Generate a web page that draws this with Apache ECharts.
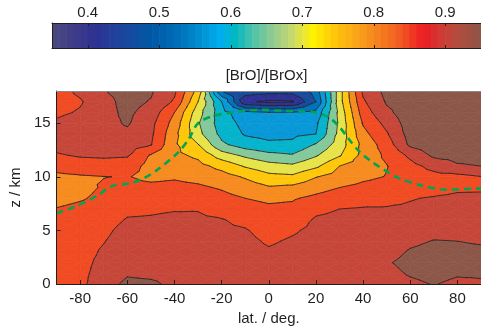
<!DOCTYPE html>
<html>
<head>
<meta charset="utf-8">
<script src="https://cdn.jsdelivr.net/npm/echarts@6/dist/echarts.min.js"></script>
<style>
html,body{margin:0;padding:0;background:#fff;}
#chart{width:481px;height:331px;}
</style>
</head>
<body>
<div id="chart"></div>
<script>
// ---- data ----
const latitudes = [-90,-80,-70,-60,-50,-40,-30,-20,-10,0,10,20,30,40,50,60,70,80,90];
const altitudes = [0,1,2,3,4,5,6,7,8,9,10,11,12,13,14,15,16,17,18];
// [BrO]/[BrOx] ratio, one row per altitude (km), columns follow latitudes
const ratioZ00 = [.875,.888,.930,.960,.958,.940,.935,.930,.935,.930,.935,.935,.930,.930,.925,.940,.952,.940,.945];
const ratioZ01 = [.875,.886,.922,.945,.940,.935,.930,.925,.930,.925,.930,.930,.930,.930,.935,.955,.965,.955,.955];
const ratioZ02 = [.875,.884,.914,.935,.932,.930,.925,.920,.925,.915,.920,.925,.928,.928,.945,.965,.970,.965,.962];
const ratioZ03 = [.873,.882,.906,.928,.928,.926,.920,.915,.915,.905,.913,.920,.925,.925,.930,.955,.965,.962,.960];
const ratioZ04 = [.870,.880,.898,.922,.924,.922,.915,.910,.910,.895,.905,.915,.920,.920,.920,.940,.952,.950,.945];
const ratioZ05 = [.868,.877,.890,.915,.917,.917,.910,.905,.903,.885,.895,.910,.915,.915,.912,.925,.935,.935,.930];
const ratioZ06 = [.862,.872,.882,.903,.905,.910,.906,.902,.890,.872,.878,.905,.910,.910,.907,.915,.920,.925,.920];
const ratioZ07 = [.852,.862,.872,.890,.893,.897,.898,.885,.870,.860,.862,.890,.900,.903,.903,.905,.910,.915,.912];
const ratioZ08 = [.835,.845,.862,.875,.877,.880,.880,.865,.850,.840,.845,.862,.880,.885,.890,.898,.903,.908,.910];
const ratioZ09 = [.828,.835,.855,.862,.860,.862,.858,.845,.825,.805,.812,.830,.850,.862,.870,.880,.885,.893,.893];
const ratioZ10 = [.840,.845,.849,.852,.840,.845,.835,.820,.795,.765,.760,.798,.820,.840,.852,.875,.885,.885,.898];
const ratioZ11 = [.865,.875,.878,.875,.832,.830,.815,.785,.745,.720,.710,.740,.800,.825,.848,.885,.915,.945,.950];
const ratioZ12 = [.895,.905,.908,.905,.845,.812,.790,.725,.690,.665,.655,.695,.745,.815,.860,.910,.960,.965,.965];
const ratioZ13 = [.915,.925,.925,.920,.903,.808,.752,.660,.625,.610,.610,.655,.725,.815,.875,.960,.975,.975,.975];
const ratioZ14 = [.920,.930,.930,.940,.910,.815,.715,.635,.595,.585,.590,.600,.715,.835,.895,.970,.975,.975,.975];
const ratioZ15 = [.908,.925,.935,.955,.915,.830,.705,.625,.585,.570,.575,.590,.710,.855,.915,.975,.975,.975,.975];
const ratioZ16 = [.890,.905,.935,.960,.930,.850,.720,.620,.565,.552,.553,.565,.715,.875,.940,.975,.975,.975,.975];
const ratioZ17 = [.880,.895,.935,.965,.947,.893,.750,.600,.410,.390,.395,.500,.730,.893,.955,.975,.975,.975,.975];
const ratioZ18 = [.880,.910,.948,.965,.956,.910,.780,.500,.480,.470,.470,.520,.730,.910,.965,.975,.975,.975,.975];
const ratioRows = [ratioZ00,ratioZ01,ratioZ02,ratioZ03,ratioZ04,ratioZ05,ratioZ06,ratioZ07,ratioZ08,ratioZ09,
                   ratioZ10,ratioZ11,ratioZ12,ratioZ13,ratioZ14,ratioZ15,ratioZ16,ratioZ17,ratioZ18];

// tropopause (green dashed line)
const tropLat = [-90,-82,-73,-67,-59,-53.5,-46.7,-38.3,-34,-30,-23,-12,-4,6,20,25.7,29.8,34,38.2,43.7,49.3,55,64.6,75.8,88.3,90];
const tropAlt = [6.6,7.25,8.2,9.1,9.4,9.8,10.75,12.3,13.5,15.0,15.7,16.1,16.25,16.15,16.0,15.5,14.7,13.5,12.4,11.4,10.6,9.9,9.2,8.8,8.9,8.9];

// contour levels and colour-bar ticks
const contourLevels = [0.35,0.40,0.45,0.50,0.55,0.60,0.65,0.70,0.75,0.80,0.85,0.90,0.95];
const colorbarTicks = [0.4,0.5,0.6,0.7,0.8,0.9];
const latTicks = [-80,-60,-40,-20,0,20,40,60,80];
const altTicks = [0,5,10,15];

// ---- styles ----
const bandColors = ['#403c88','#403c88','#2e3192','#164c9c','#0072bc','#0898d8','#06b3cc','#84c99b',
                    '#e6e44a','#ffc70c','#f68b1f','#f04b23','#c6473a','#8c5749'];
const cmapStops = [[0.35,'#4b4a7c'],[0.38,'#3f3c88'],[0.41,'#2e3192'],[0.45,'#1b479d'],[0.49,'#0058a5'],
  [0.53,'#0071bb'],[0.56,'#0092d4'],[0.585,'#00aeef'],[0.605,'#00b7c4'],[0.63,'#4cc2ab'],[0.66,'#94cb8f'],
  [0.685,'#c6d970'],[0.705,'#f0e92a'],[0.715,'#fff200'],[0.745,'#ffc60b'],[0.79,'#f7941d'],[0.83,'#f26522'],
  [0.87,'#ed1c24'],[0.895,'#cf3a35'],[0.915,'#b54b3d'],[0.95,'#8c5648']];
const TXT = '#231f20';
const FONT = '"Liberation Sans", Arial, Helvetica, sans-serif';

function hex2rgb(h){return [parseInt(h.substr(1,2),16),parseInt(h.substr(3,2),16),parseInt(h.substr(5,2),16)];}
function cmap(v){
  if (v<=cmapStops[0][0]) return cmapStops[0][1];
  for (let k=1;k<cmapStops.length;k++){
    if (v<=cmapStops[k][0]){
      const a=cmapStops[k-1], b=cmapStops[k], f=(v-a[0])/(b[0]-a[0]);
      const ca=hex2rgb(a[1]), cb=hex2rgb(b[1]);
      return 'rgb('+ca.map((x,i)=>Math.round(x+f*(cb[i]-x))).join(',')+')';
    }
  }
  return cmapStops[cmapStops.length-1][1];
}

const nx = latitudes.length, ny = altitudes.length;
const fieldTable = [];
for (let j=0;j<ny;j++) for (let i=0;i<nx;i++) fieldTable.push([latitudes[i], altitudes[j], ratioRows[j][i]]);

function interp(p,q,t){const f=(t-p.v)/(q.v-p.v);return {x:p.x+f*(q.x-p.x),y:p.y+f*(q.y-p.y),v:t};}
function clip(poly,t,above){
  const out=[];
  for (let k=0;k<poly.length;k++){
    const cur=poly[k], prev=poly[(k+poly.length-1)%poly.length];
    const ci = above ? cur.v>=t : cur.v<t;
    const pi = above ? prev.v>=t : prev.v<t;
    if (ci){ if(!pi) out.push(interp(prev,cur,t)); out.push(cur);} else if (pi) out.push(interp(prev,cur,t));
  }
  return out;
}
function cellTriangles(api){
  const i = latitudes.indexOf(api.value(0)), j = altitudes.indexOf(api.value(1));
  if (i<0||j<0||i>=nx-1||j>=ny-1) return null;
  const P=(ii,jj)=>{const c=api.coord([latitudes[ii],altitudes[jj]]);return {x:c[0],y:c[1],v:ratioRows[jj][ii]};};
  const a=P(i,j), b=P(i+1,j), c=P(i+1,j+1), d=P(i,j+1);
  const m={x:(a.x+b.x+c.x+d.x)/4,y:(a.y+b.y+c.y+d.y)/4,v:(a.v+b.v+c.v+d.v)/4};
  return [[a,b,m],[b,c,m],[c,d,m],[d,a,m]];
}
function renderFill(params, api){
  const tris = cellTriangles(api); if(!tris) return null;
  const children=[];
  for (const tri of tris){
    for (let k=0;k<=contourLevels.length;k++){
      const lo = k===0 ? -Infinity : contourLevels[k-1];
      const hi = k===contourLevels.length ? Infinity : contourLevels[k];
      let poly = tri;
      if (lo>-Infinity) poly = clip(poly,lo,true);
      if (poly.length<3) continue;
      if (hi<Infinity) poly = clip(poly,hi,false);
      if (poly.length<3) continue;
      const col = bandColors[k];
      children.push({type:'polygon',shape:{points:poly.map(p=>[p.x,p.y])},style:{fill:col,stroke:col,lineWidth:0.7}});
    }
  }
  return {type:'group',children};
}
function renderLines(params, api){
  const tris = cellTriangles(api); if(!tris) return null;
  const children=[];
  for (const tri of tris){
    for (const t of contourLevels){
      const pts=[];
      for (let e=0;e<3;e++){
        const p=tri[e], q=tri[(e+1)%3];
        if ((p.v>=t)!==(q.v>=t)) pts.push(interp(p,q,t));
      }
      if (pts.length===2) children.push({type:'line',shape:{x1:pts[0].x,y1:pts[0].y,x2:pts[1].x,y2:pts[1].y},
        style:{stroke:'#231f20',lineWidth:0.8,lineCap:'round'}});
    }
  }
  return {type:'group',children};
}
function renderColorbar(params, api){
  const lo = api.value(0), hi = api.value(1);
  const n = 60, step=(hi-lo)/n, children=[];
  for (let k=0;k<n;k++){
    const v0=lo+k*step, p0=api.coord([v0,1]), p1=api.coord([v0+step,0]);
    const col=cmap(v0+step/2);
    children.push({type:'rect',shape:{x:p0[0],y:p0[1],width:p1[0]-p0[0]+0.6,height:p1[1]-p0[1]},style:{fill:col}});
  }
  return {type:'group',children};
}

const chart = echarts.init(document.getElementById('chart'), null, {renderer:'canvas'});
const lbl = {color:TXT,fontSize:15,fontFamily:FONT};
chart.setOption({
  animation:false,
  grid:[
    {left:53,top:91,width:431,height:196.5,containLabel:false},
    {left:52,top:23,width:435.6,height:25,containLabel:false}
  ],
  xAxis:[
    {gridIndex:0,type:'value',min:-90,max:90,position:'bottom',z:10,
     axisLine:{show:true,onZero:false,lineStyle:{color:TXT,width:1}},
     axisTick:{show:true,inside:true,length:4,customValues:latTicks,lineStyle:{color:TXT}},
     axisLabel:{...lbl,margin:7,customValues:latTicks},
     splitLine:{show:false},
     name:'lat. / deg.',nameLocation:'middle',nameGap:24,nameTextStyle:lbl},
    {gridIndex:0,type:'value',min:-90,max:90,position:'top',z:10,
     axisLine:{show:true,onZero:false,lineStyle:{color:'#8a8a8a',width:1}},
     axisTick:{show:false},axisLabel:{show:false},splitLine:{show:false}},
    {gridIndex:1,type:'value',min:0.35,max:0.95,position:'top',z:10,
     axisLine:{show:true,onZero:false,lineStyle:{color:TXT,width:1}},
     axisTick:{show:true,inside:true,length:3,customValues:colorbarTicks,lineStyle:{color:TXT}},
     axisLabel:{...lbl,margin:3,customValues:colorbarTicks,formatter:v=>v.toFixed(1)},
     splitLine:{show:false}},
    {gridIndex:1,type:'value',min:0.35,max:0.95,position:'bottom',z:10,
     axisLine:{show:true,onZero:false,lineStyle:{color:TXT,width:1}},
     axisTick:{show:true,inside:true,length:3,customValues:colorbarTicks,lineStyle:{color:TXT}},
     axisLabel:{show:false},splitLine:{show:false},
     name:'[BrO]/[BrOx]',nameLocation:'middle',nameGap:20,nameTextStyle:lbl}
  ],
  yAxis:[
    {gridIndex:0,type:'value',min:0,max:18,z:10,
     axisLine:{show:true,onZero:false,lineStyle:{color:TXT,width:1}},
     axisTick:{show:true,inside:true,length:4,customValues:altTicks,lineStyle:{color:TXT}},
     axisLabel:{...lbl,margin:6,customValues:altTicks},
     splitLine:{show:false},
     name:'z / km',nameLocation:'middle',nameGap:23,nameRotate:90,nameTextStyle:lbl},
    {gridIndex:1,type:'value',min:0,max:1,z:10,
     axisLine:{show:true,onZero:false,lineStyle:{color:TXT,width:1}},
     axisTick:{show:false},axisLabel:{show:false},splitLine:{show:false}}
  ],
  series:[
    {type:'custom',name:'ratio fill',xAxisIndex:0,yAxisIndex:0,data:fieldTable,renderItem:renderFill,clip:true,z:1,silent:true},
    {type:'custom',name:'ratio contours',xAxisIndex:0,yAxisIndex:0,data:fieldTable,renderItem:renderLines,clip:true,z:2,silent:true},
    {type:'line',name:'tropopause',xAxisIndex:0,yAxisIndex:0,data:tropLat.map((x,k)=>[x,tropAlt[k]]),
     showSymbol:false,smooth:0.3,clip:true,z:3,silent:true,
     lineStyle:{color:'#00a651',width:2.6,type:[7,5]}},
    {type:'custom',name:'colorbar',xAxisIndex:2,yAxisIndex:1,data:[[0.35,0.95]],renderItem:renderColorbar,clip:true,z:1,silent:true}
  ]
});
</script>
</body>
</html>
